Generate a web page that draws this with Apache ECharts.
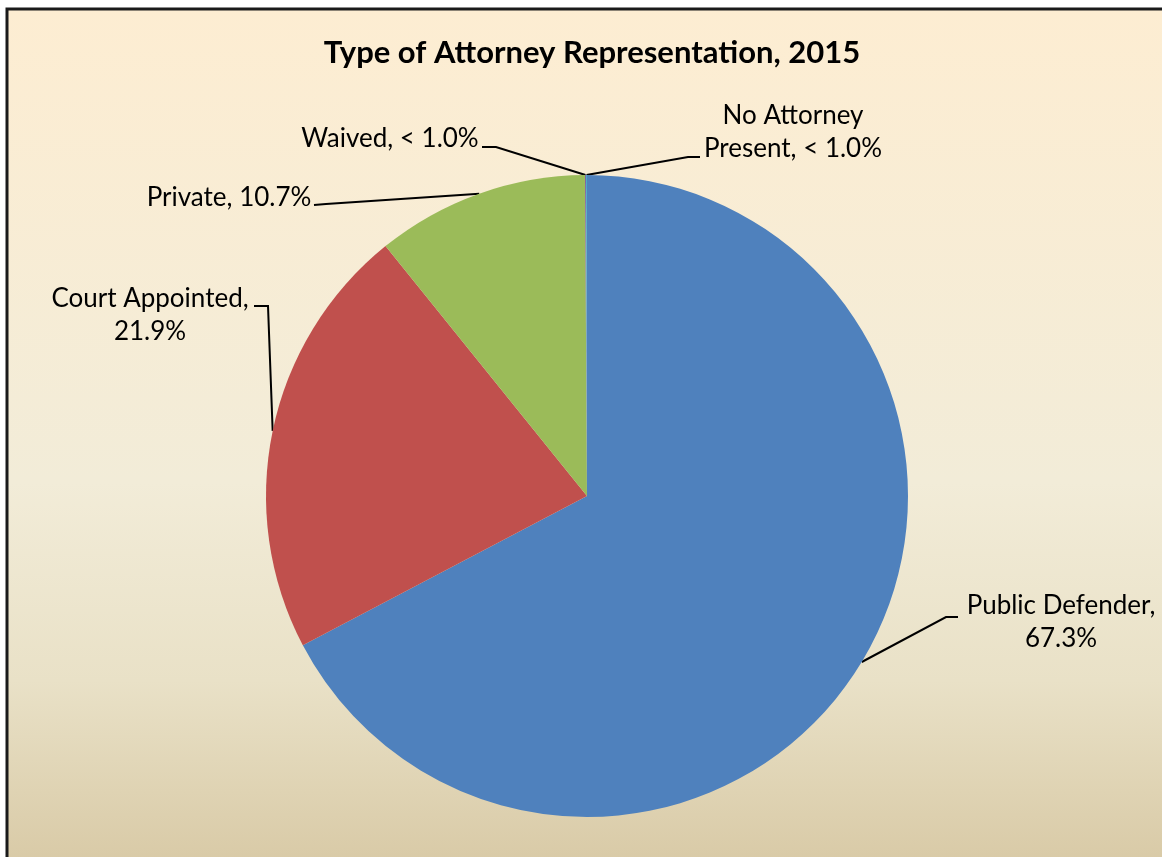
<!DOCTYPE html>
<html>
<head>
    <meta charset="UTF-8">
    <title>Type of Attorney Representation, 2015</title>
    <style>
        html, body { margin: 0; padding: 0; background: #fff; }
        #chart { width: 1162px; height: 857px; }
    </style>
</head>
<body>
    <div id="chart"></div>
    <script src="https://cdn.jsdelivr.net/npm/echarts@6/dist/echarts.min.js"></script>
    <script>
        // data
        var categories = ['Public Defender', 'Court Appointed', 'Private', 'Waived', 'No Attorney Present'];
        var values = [67.3, 21.9, 10.7, 0.05, 0.05];
        var labelTexts = ['Public Defender,\n67.3%', 'Court Appointed,\n21.9%', 'Private, 10.7%',
                          'Waived, < 1.0%', 'No Attorney\nPresent, < 1.0%'];
        var colors = ['#4F81BD', '#C0504D', '#9BBB59', '#8064A2', '#4BACC6'];

        // label centres and leader line elbows (layout only)
        var labelPos = [[1061, 622], [150, 315], [229, 198], [390, 139], [793, 132]];
        var lineElbows = [
            [[946, 617], [958, 617]],
            [[268, 306], [254, 306]],
            [[326, 204], [314, 205]],
            [[496, 147], [482, 147]],
            [[688, 157], [700, 157]]
        ];

        var chart = echarts.init(document.getElementById('chart'));
        var option = {
            backgroundColor: '#fff',
            animation: false,
            graphic: [{
                type: 'rect',
                z: -10,
                silent: true,
                shape: { x: 7, y: 9, width: 1162, height: 860 },
                style: {
                    fill: new echarts.graphic.LinearGradient(0, 0, 0, 1, [
                        { offset: 0, color: '#FDEDD2' },
                        { offset: 0.55, color: '#F2ECD8' },
                        { offset: 0.78, color: '#E9E1C7' },
                        { offset: 1, color: '#D8C9A5' }
                    ]),
                    stroke: '#1a1a1a',
                    lineWidth: 3
                }
            }],
            title: {
                text: 'Type of Attorney Representation, 2015',
                left: 587,
                top: 32,
                textAlign: 'center',
                textStyle: {
                    fontFamily: 'Lato',
                    fontWeight: 'bold',
                    fontSize: 31,
                    color: '#000'
                }
            },
            series: [{
                type: 'pie',
                center: [587, 496],
                radius: 321,
                startAngle: 90,
                clockwise: true,
                avoidLabelOverlap: false,
                data: categories.map(function (c, i) {
                    return { name: c, value: values[i], itemStyle: { color: colors[i] } };
                }),
                itemStyle: { borderWidth: 0 },
                label: {
                    show: true,
                    position: 'outside',
                    formatter: function (p) { return labelTexts[p.dataIndex]; },
                    fontFamily: 'Lato',
                    fontSize: 26,
                    lineHeight: 33,
                    color: '#000',
                    align: 'center'
                },
                labelLine: {
                    show: true,
                    lineStyle: { color: '#000', width: 2 }
                },
                labelLayout: function (params) {
                    var i = params.dataIndex;
                    var p0 = params.labelLinePoints ? params.labelLinePoints[0] : [587, 175];
                    return {
                        x: labelPos[i][0],
                        y: labelPos[i][1],
                        align: 'center',
                        verticalAlign: 'middle',
                        labelLinePoints: [p0, lineElbows[i][0], lineElbows[i][1]]
                    };
                },
                emphasis: { disabled: true }
            }]
        };
        chart.setOption(option);
    </script>
</body>
</html>
